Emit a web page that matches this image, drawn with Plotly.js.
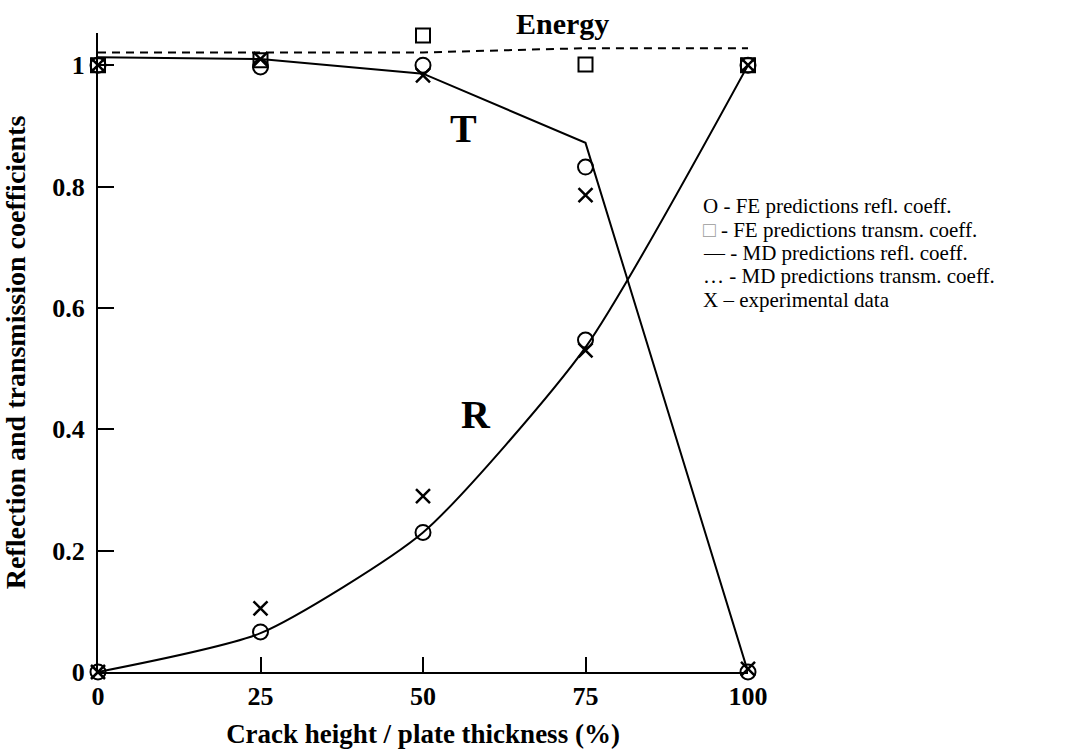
<!DOCTYPE html>
<html>
<head>
<meta charset="utf-8">
<script src="https://cdn.plot.ly/plotly-3.0.1.min.js"></script>
<style>
  html, body { margin: 0; padding: 0; background: #ffffff; }
  #chart { width: 1092px; height: 753px; }
</style>
</head>
<body>
<div id="chart"></div>
<script>
// Crack height as a percentage of plate thickness
const crack = [0, 25, 50, 75, 100];

// MD (model) predictions
const mdTrans  = [1.013, 1.010, 0.986, 0.872, 0.000];
const mdRefl   = [0.000, 0.064, 0.230, 0.535, 1.000];
const mdEnergy = [1.021, 1.021, 1.021, 1.028, 1.028];

// FE predictions
const feTrans  = [1.000, 0.997, 1.000, 0.832, 0.000];
const feRefl   = [0.000, 0.066, 0.230, 0.547, 1.000];
const feEnergy = [1.000, 1.008, 1.049, 1.001, 1.000];

// Experimental data
const expTrans = [1.000, 1.010, 0.983, 0.786, 0.005];
const expRefl  = [0.000, 0.105, 0.290, 0.530, 1.000];

// Axis ticks
const xTicks = [0, 25, 50, 75, 100];
const xTickText = ['0', '25', '50', '75', '100'];
const yTicks = [0, 0.2, 0.4, 0.6, 0.8, 1];
const yTickText = ['0', '0.2', '0.4', '0.6', '0.8', '1'];

// Key text, one row per entry
const keyRows = [
  'O - FE predictions refl. coeff.',
  '<span style="color:#9a9a9a">\u25A1</span> - FE predictions transm. coeff.',
  '\u2014 - MD predictions refl. coeff.',
  '\u2026 - MD predictions transm. coeff.',
  'X \u2013 experimental data'
];

const serif = 'Liberation Serif, Times New Roman, serif';
const ink = '#000000';

const lineTrace = (y, dash, shape) => ({
  x: crack, y: y, type: 'scatter', mode: 'lines',
  line: { color: ink, width: 2, dash: dash || 'solid', shape: shape || 'linear', smoothing: 0.6 },
  cliponaxis: false, hoverinfo: 'skip', showlegend: false
});
const markTrace = (y, symbol, size, lw) => ({
  x: crack, y: y, type: 'scatter', mode: 'markers',
  marker: { symbol: symbol, size: size, color: ink, line: { color: ink, width: lw } },
  cliponaxis: false, showlegend: false
});

const data = [
  lineTrace(mdEnergy, '8px,6px'),
  lineTrace(mdTrans),
  lineTrace(mdRefl, 'solid', 'spline'),
  markTrace(feEnergy, 'square-open', 14, 2),
  markTrace(feTrans, 'circle-open', 15, 2),
  markTrace(feRefl, 'circle-open', 15, 2),
  markTrace(expTrans, 'x-thin-open', 14, 2.5),
  markTrace(expRefl, 'x-thin-open', 14, 2.5)
];

const annotations = [
  { text: 'Energy', xref: 'x', yref: 'paper', x: 71.4, y: 1.0156,
    font: { family: serif, size: 30, color: ink, weight: 'bold' } },
  { text: 'T', xref: 'x', yref: 'y', x: 56.3, y: 0.895,
    font: { family: serif, size: 40, color: ink, weight: 'bold' } },
  { text: 'R', xref: 'x', yref: 'y', x: 58.2, y: 0.425,
    font: { family: serif, size: 40, color: ink, weight: 'bold' } }
].map(a => Object.assign({ showarrow: false, xanchor: 'center', yanchor: 'middle' }, a));

// Key rows stacked tightly on the right of the plot
const keyY = [0.7287, 0.6922, 0.6557, 0.6193, 0.5828];
keyRows.forEach((t, i) => {
  annotations.push({
    text: t, xref: 'paper', yref: 'paper', x: 0.929, y: keyY[i],
    xanchor: 'left', yanchor: 'middle', showarrow: false, align: 'left',
    borderpad: 0,
    font: { family: serif, size: 21, color: ink }
  });
});

const axisCommon = {
  showline: true, linecolor: ink, linewidth: 2,
  showgrid: false, zeroline: false,
  ticks: 'inside', tickcolor: ink, tickwidth: 2,
  tickfont: { family: serif, size: 26, color: ink, weight: 'bold' },
  fixedrange: true
};

const layout = {
  width: 1092, height: 753,
  margin: { l: 98, r: 344, t: 33, b: 81 },
  paper_bgcolor: '#ffffff', plot_bgcolor: '#ffffff',
  showlegend: false,
  xaxis: Object.assign({}, axisCommon, {
    range: [0, 100], tickmode: 'array', tickvals: xTicks, ticktext: xTickText,
    ticklen: 15,
    title: { text: 'Crack height / plate thickness (%)', standoff: 14,
             font: { family: serif, size: 27, color: ink, weight: 'bold' } }
  }),
  yaxis: Object.assign({}, axisCommon, {
    range: [0, 1.053], tickmode: 'array', tickvals: yTicks, ticktext: yTickText,
    ticklen: 16, ticklabelstandoff: 6,
    title: { text: 'Reflection and transmission coefficients', standoff: 20,
             font: { family: serif, size: 28, color: ink, weight: 'bold' } }
  }),
  annotations: annotations
};

Plotly.newPlot('chart', data, layout, { staticPlot: true, displayModeBar: false });
</script>
</body>
</html>
